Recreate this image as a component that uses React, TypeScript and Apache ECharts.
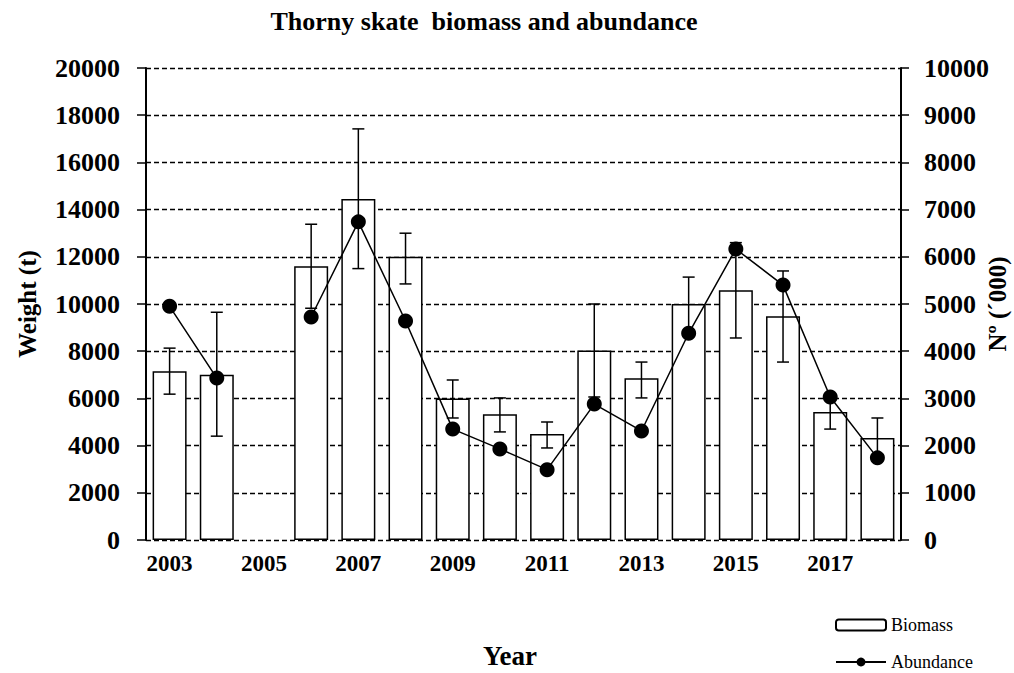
import React, { useEffect, useRef } from "react";
import * as echarts from "echarts";

const years = ["2003", "2004", "2005", "2006", "2007", "2008", "2009", "2010", "2011", "2012", "2013", "2014", "2015", "2016", "2017", "2018"];
const biomass = [7150, 7000, null, 11600, 14450, 12000, 6000, 5330, 4490, 8030, 6850, 10000, 10580, 9480, 5420, 4320];
const biomassLow = [6180, 4400, null, 9820, 11500, 10850, 5170, 4580, 3900, 6060, 6020, 8860, 8560, 7540, 4700, 3470];
const biomassHigh = [8130, 9650, null, 13380, 17420, 13000, 6780, 6020, 5000, 10000, 7540, 11140, 12600, 11400, 6140, 5170];
const abundance = [4950, 3430, null, 4725, 6740, 4640, 2350, 1930, 1490, 2880, 2310, 4380, 6165, 5400, 3030, 1740];

const FONT = "'Liberation Serif', 'Times New Roman', serif";
const plain = (v: number) => String(v);

export default function App() {
  const ref = useRef<HTMLDivElement>(null);
  useEffect(() => {
    const chart = echarts.init(ref.current!, null, { renderer: "svg" });
    const errData: any[] = [];
    years.forEach((_, i) => {
      if (biomassLow[i] != null && biomassHigh[i] != null) errData.push([i, biomassLow[i], biomassHigh[i]]);
    });
    chart.setOption({
      animation: false,
      backgroundColor: "#fff",
      textStyle: { fontFamily: FONT, color: "#000" },
      graphic: [
        {
          type: "text",
          x: 484,
          y: 21,
          style: {
            text: "Thorny skate  biomass and abundance",
            fontFamily: FONT,
            fontWeight: "bold",
            fontSize: 26,
            fill: "#000",
            textAlign: "center",
            textVerticalAlign: "middle",
          },
        },
      ],
      grid: { left: 146, right: 113, top: 68, bottom: 133, containLabel: false, outerBoundsMode: "none" },
      legend: [
        {
          left: 830,
          top: 611,
          data: ["Biomass"],
          itemWidth: 50,
          itemHeight: 11,
          itemGap: 7,
          textStyle: { fontFamily: FONT, fontSize: 18, color: "#000" },
        },
        {
          left: 830,
          top: 648,
          data: ["Abundance"],
          itemWidth: 50,
          itemHeight: 11,
          textStyle: { fontFamily: FONT, fontSize: 18, color: "#000" },
        },
      ],
      xAxis: {
        type: "category",
        data: years,
        boundaryGap: true,
        axisLine: { show: false },
        axisTick: { show: false },
        axisLabel: {
          interval: 1,
          fontFamily: FONT,
          fontWeight: "bold",
          fontSize: 23,
          color: "#000",
          margin: 12,
        },
        name: "Year",
        nameLocation: "middle",
        nameGap: 102,
        nameMoveOverlap: false,
        nameTextStyle: {
          fontFamily: FONT,
          fontWeight: "bold",
          fontSize: 27,
          color: "#000",
          padding: [0, 27, 0, 0],
        },
      },
      yAxis: [
        {
          type: "value",
          min: 0,
          max: 20000,
          interval: 2000,
          position: "left",
          axisLine: { show: true, lineStyle: { color: "#000", width: 2 } },
          axisTick: { show: true, length: 9, lineStyle: { color: "#000", width: 1.5 } },
          axisLabel: {
            formatter: plain,
            fontFamily: FONT,
            fontWeight: "bold",
            fontSize: 26,
            color: "#000",
            margin: 26,
          },
          splitLine: { show: true, lineStyle: { color: "#000", type: [5, 3], width: 1.3 } },
          name: "Weight (t)",
          nameLocation: "middle",
          nameRotate: 90,
          nameGap: 106,
          nameMoveOverlap: false,
          nameTextStyle: { fontFamily: FONT, fontWeight: "bold", fontSize: 25, color: "#000" },
        },
        {
          type: "value",
          min: 0,
          max: 10000,
          interval: 1000,
          position: "right",
          axisLine: { show: true, lineStyle: { color: "#000", width: 2 } },
          axisTick: { show: true, length: 8, lineStyle: { color: "#000", width: 1.5 } },
          axisLabel: {
            formatter: plain,
            fontFamily: FONT,
            fontWeight: "bold",
            fontSize: 26,
            color: "#000",
            margin: 23,
          },
          splitLine: { show: false },
          name: "Nº (´000)",
          nameLocation: "middle",
          nameRotate: 90,
          nameGap: 84,
          nameMoveOverlap: false,
          nameTextStyle: { fontFamily: FONT, fontWeight: "bold", fontSize: 25, color: "#000" },
        },
      ],
      series: [
        {
          name: "Biomass",
          type: "bar",
          yAxisIndex: 0,
          data: biomass,
          barWidth: 34,
          itemStyle: { color: "#fff", borderColor: "#000", borderWidth: 1.5 },
          z: 2,
        },
        {
          name: "Biomass error",
          type: "custom",
          yAxisIndex: 0,
          data: errData,
          z: 3,
          renderItem: (params: any, api: any) => {
            const x = api.value(0);
            const lo = api.coord([x, api.value(1)]);
            const hi = api.coord([x, api.value(2)]);
            const cap = 6;
            const st = { stroke: "#000", lineWidth: 1.5 };
            return {
              type: "group",
              children: [
                { type: "line", shape: { x1: lo[0], y1: lo[1], x2: hi[0], y2: hi[1] }, style: st },
                { type: "line", shape: { x1: lo[0] - cap, y1: lo[1], x2: lo[0] + cap, y2: lo[1] }, style: st },
                { type: "line", shape: { x1: hi[0] - cap, y1: hi[1], x2: hi[0] + cap, y2: hi[1] }, style: st },
              ],
            };
          },
        },
        {
          name: "Abundance",
          type: "line",
          yAxisIndex: 1,
          data: abundance,
          connectNulls: false,
          symbol: "circle",
          symbolSize: 15,
          lineStyle: { color: "#000", width: 1.5 },
          itemStyle: { color: "#000" },
          z: 4,
        },
      ],
    });
    return () => chart.dispose();
  }, []);
  return (
    <div
      ref={ref}
      style={{ position: "fixed", left: 0, top: 0, width: 1014, height: 673, background: "#fff" }}
    />
  );
}
